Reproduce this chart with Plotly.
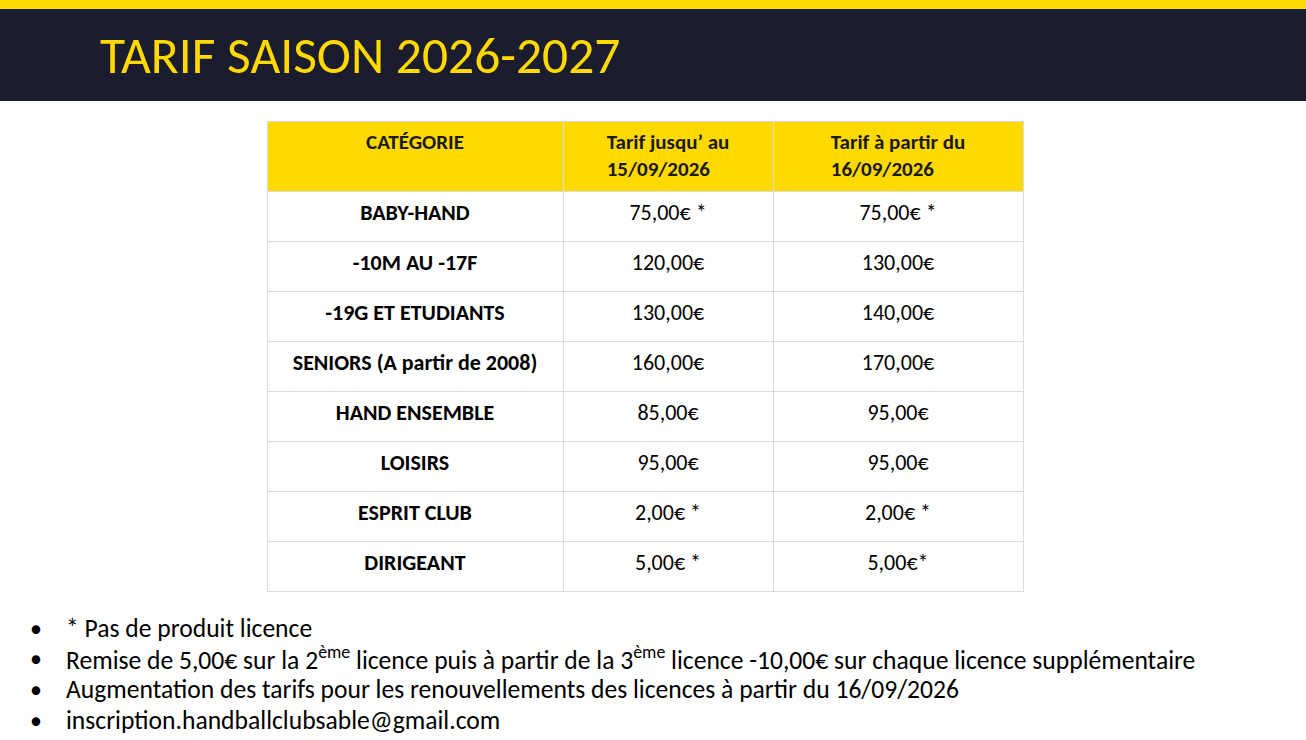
import plotly.graph_objects as go

W, H = 1306, 740

# table data
headers = ['CATÉGORIE', 'Tarif jusqu’ au<br>15/09/2026', 'Tarif à partir du<br>16/09/2026']
categories = ['BABY-HAND', '-10M AU -17F', '-19G ET ETUDIANTS', 'SENIORS (A partir de 2008)',
              'HAND ENSEMBLE', 'LOISIRS', 'ESPRIT CLUB', 'DIRIGEANT']
tarif_avant = ['75,00€ *', '120,00€', '130,00€', '160,00€', '85,00€', '95,00€', '2,00€ *', '5,00€ *']
tarif_apres = ['75,00€ *', '130,00€', '140,00€', '170,00€', '95,00€', '95,00€', '2,00€ *', '5,00€*']

notes = ['* Pas de produit licence',
         'Remise de 5,00€ sur la 2<sup>ème</sup> licence puis à partir de la 3<sup>ème</sup> licence -10,00€ sur chaque licence supplémentaire',
         'Augmentation des tarifs pour les renouvellements des licences à partir du 16/09/2026',
         'inscription.handballclubsable@gmail.com']

FONT = 'Carlito, Lato, Open Sans, sans-serif'
YELLOW = '#FFD900'
NAVY = '#1B1C2E'


def px(x):
    return x / W


def py(y):
    return 1 - y / H


fig = go.Figure()

fig.add_trace(go.Table(
    domain=dict(x=[px(267), px(1023)], y=[py(593), py(121)]),
    columnwidth=[296, 210, 250],
    header=dict(values=['<b>%s</b>' % h for h in headers],
                fill_color=YELLOW, line_color='#DCDCDC', line_width=1,
                align='center', height=70,
                font=dict(family=FONT, size=21, color='#1a1a1a')),
    cells=dict(values=[['<b>%s</b>' % c for c in categories],
                       ['<span>%s</span>' % v for v in tarif_avant],
                       ['<span>%s</span>' % v for v in tarif_apres]],
               fill_color='white', line_color='#DCDCDC', line_width=1,
               align='center', height=50,
               font=dict(family=FONT, size=22, color='black')),
))

# bandeau du titre
fig.add_shape(type='rect', xref='paper', yref='paper', x0=0, x1=1, y0=py(101), y1=py(9),
              fillcolor=NAVY, line_width=0, layer='below')
fig.add_shape(type='rect', xref='paper', yref='paper', x0=0, x1=1, y0=py(9), y1=1,
              fillcolor=YELLOW, line_width=0, layer='below')
fig.add_annotation(text='TARIF SAISON 2026-2027', xref='paper', yref='paper',
                   x=px(98), y=py(55), xanchor='left', yanchor='middle', showarrow=False,
                   font=dict(family=FONT, size=51.5, color=YELLOW))

# notes en bas
for i, t in enumerate(notes):
    y = 628 + i * 30.7
    fig.add_annotation(text='•', xref='paper', yref='paper', x=px(28), y=py(y),
                       xanchor='left', yanchor='middle', showarrow=False,
                       font=dict(family=FONT, size=24, color='black'))
    fig.add_annotation(text=t, xref='paper', yref='paper', x=px(64), y=py(y),
                       xanchor='left', yanchor='middle', showarrow=False,
                       font=dict(family=FONT, size=25.6, color='black'))

fig.update_layout(width=W, height=H, margin=dict(l=0, r=0, t=0, b=0),
                  paper_bgcolor='white', plot_bgcolor='white')

fig.write_html('out.html', config={'displayModeBar': False},
               post_script="document.body.style.margin='0';")
